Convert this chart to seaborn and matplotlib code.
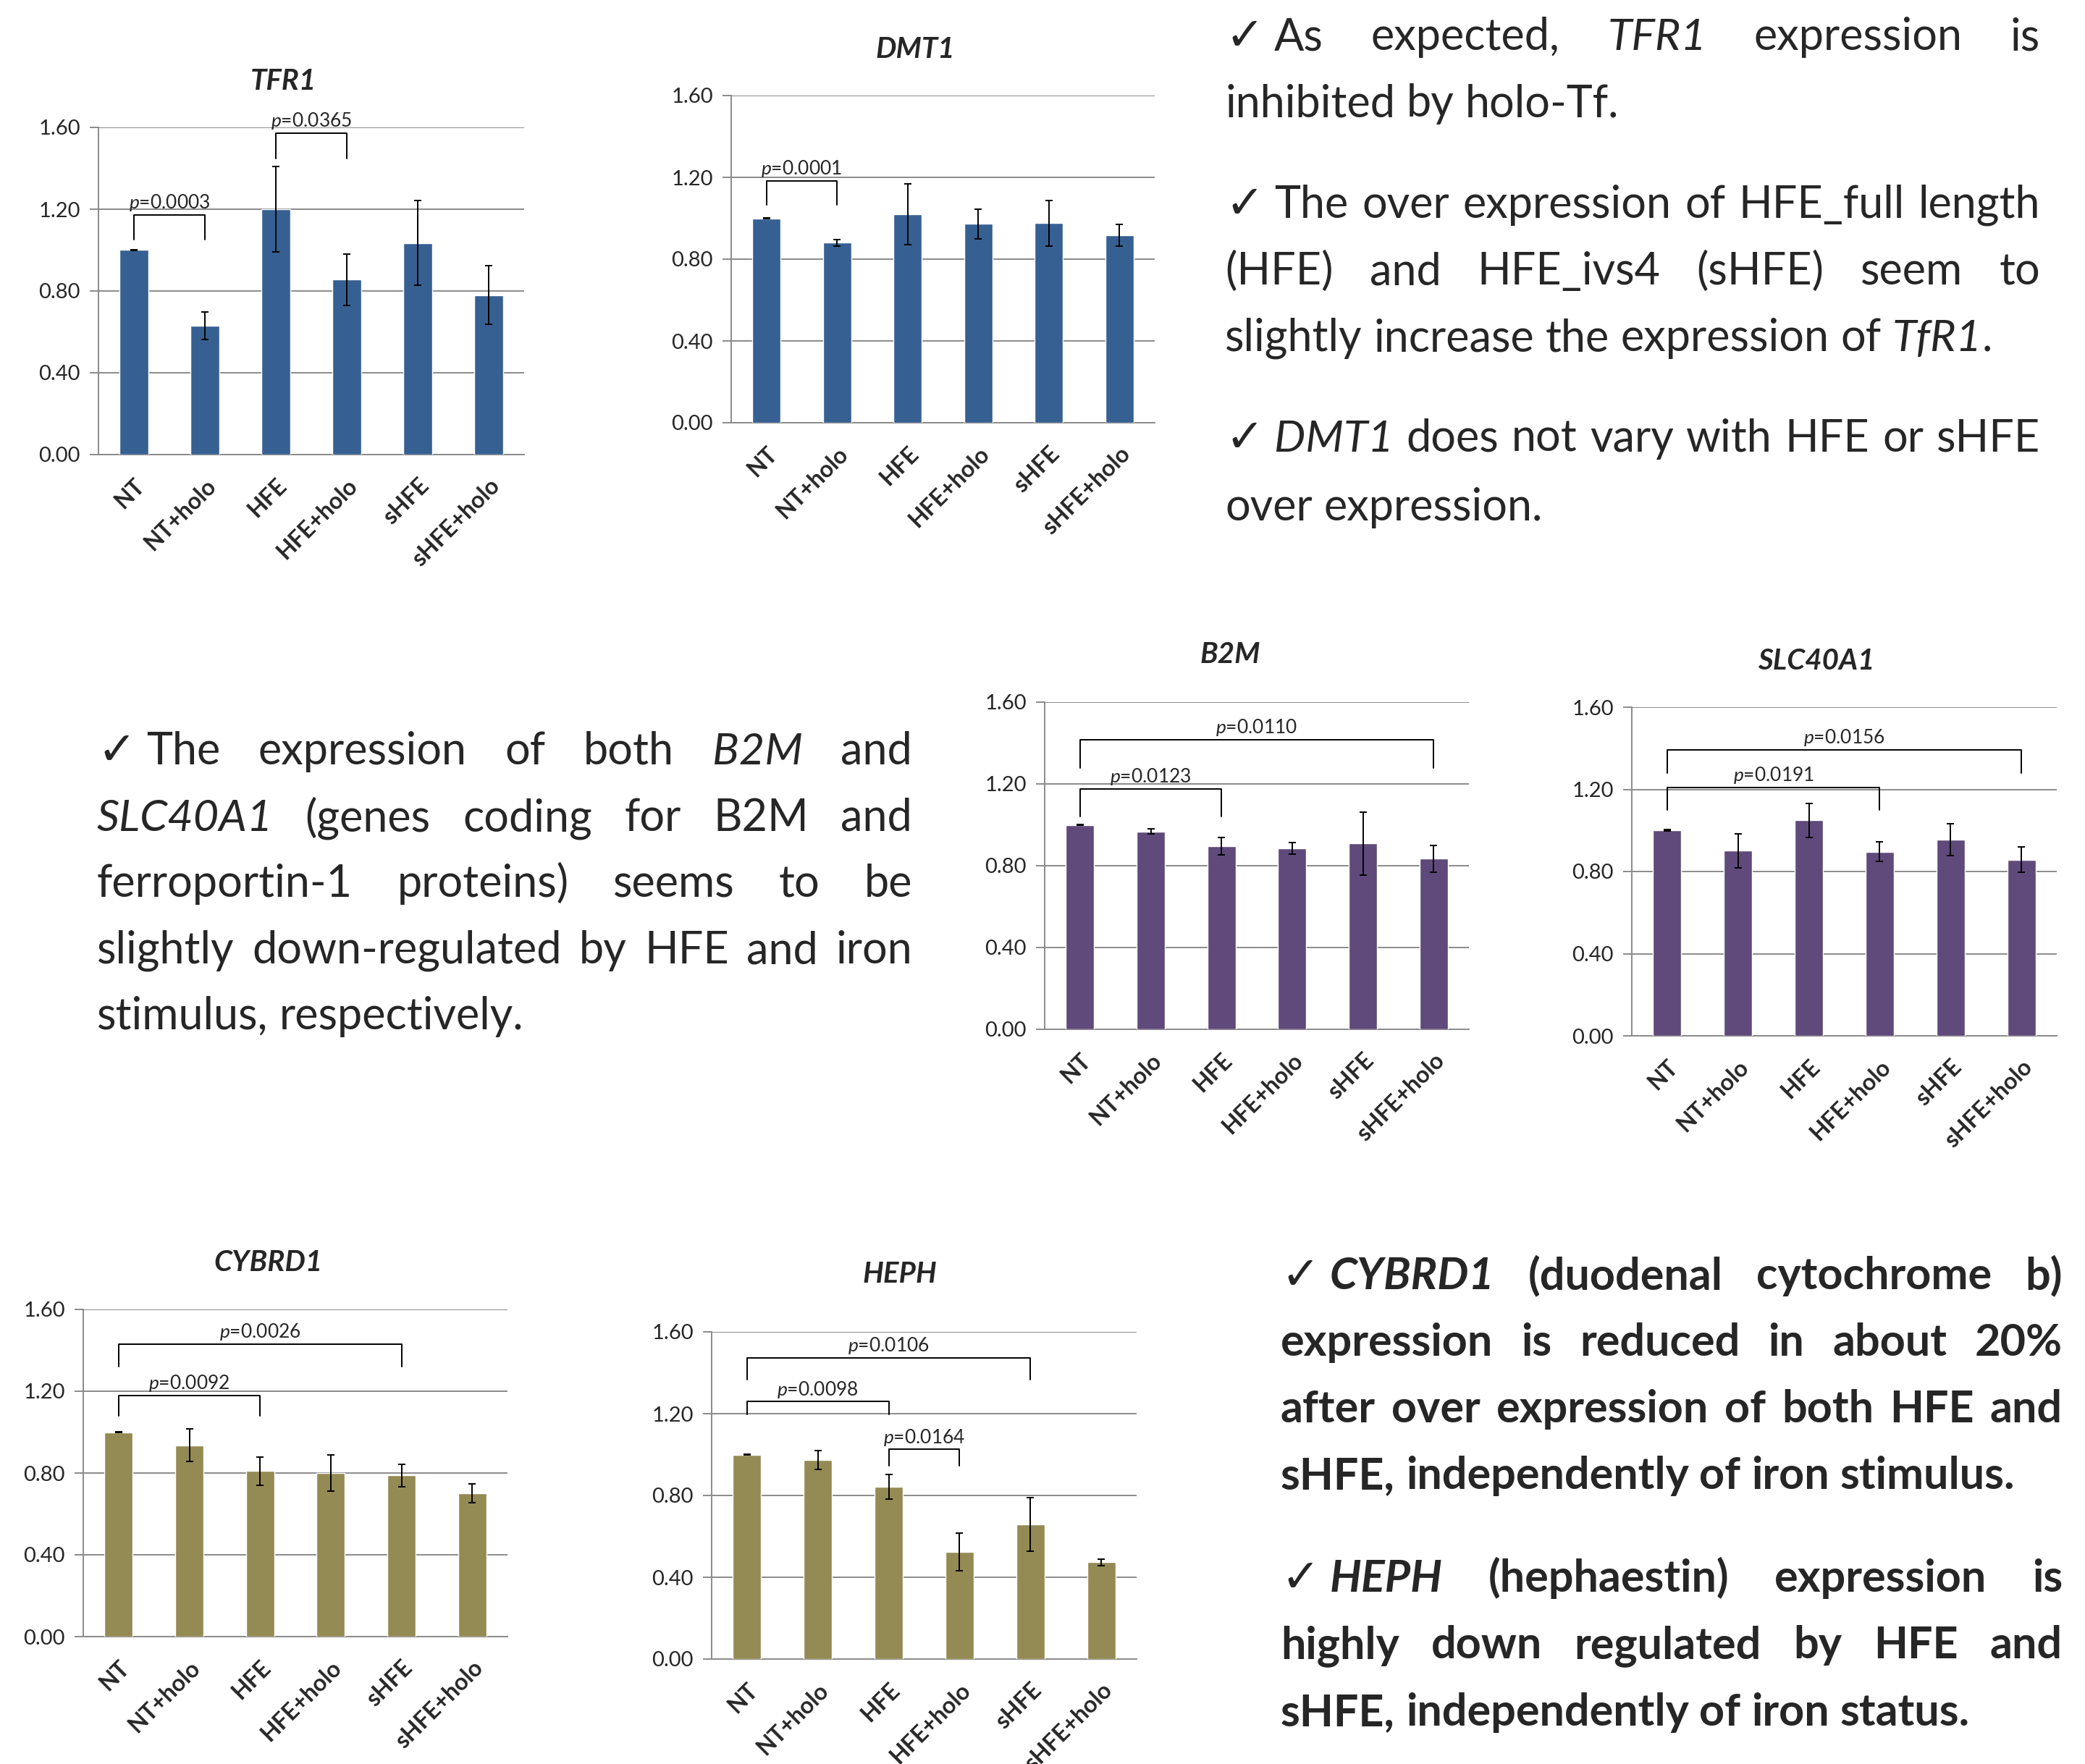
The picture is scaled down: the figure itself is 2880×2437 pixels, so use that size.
import numpy as np
import pandas as pd
import seaborn as sns
import matplotlib.pyplot as plt

W, H, DPI = 2880, 2437, 100

conditions = ["NT", "NT+holo", "HFE", "HFE+holo", "sHFE", "sHFE+holo"]

# relative expression (mean) and error
tfr1_mean = [1.00, 0.63, 1.20, 0.855, 1.035, 0.78]
tfr1_err = [0.003, 0.067, 0.21, 0.125, 0.207, 0.144]
dmt1_mean = [1.00, 0.88, 1.02, 0.972, 0.976, 0.917]
dmt1_err = [0.003, 0.015, 0.149, 0.073, 0.112, 0.054]
b2m_mean = [1.00, 0.968, 0.896, 0.884, 0.908, 0.834]
b2m_err = [0.003, 0.011, 0.043, 0.028, 0.155, 0.065]
slc_mean = [1.00, 0.901, 1.050, 0.896, 0.954, 0.857]
slc_err = [0.003, 0.084, 0.083, 0.047, 0.077, 0.062]
cybrd1_mean = [1.00, 0.936, 0.809, 0.800, 0.788, 0.701]
cybrd1_err = [0.003, 0.081, 0.069, 0.090, 0.055, 0.046]
heph_mean = [1.00, 0.975, 0.842, 0.525, 0.659, 0.473]
heph_err = [0.003, 0.046, 0.060, 0.092, 0.130, 0.016]

# significance brackets: (from, to, p-value)
tfr1_p = [(0, 1, "0.0003"), (2, 3, "0.0365")]
dmt1_p = [(0, 1, "0.0001")]
b2m_p = [(0, 2, "0.0123"), (0, 5, "0.0110")]
slc_p = [(0, 3, "0.0191"), (0, 5, "0.0156")]
cybrd1_p = [(0, 2, "0.0092"), (0, 4, "0.0026")]
heph_p = [(0, 2, "0.0098"), (0, 4, "0.0106"), (2, 3, "0.0164")]

# bracket heights (top, bottom of legs) in data units
tfr1_h = [(1.173, 1.052), (1.572, 1.449)]
dmt1_h = [(1.182, 1.065)]
b2m_h = [(1.176, 1.039), (1.415, 1.279)]
slc_h = [(1.209, 1.100), (1.391, 1.280)]
cybrd1_h = [(1.179, 1.080), (1.429, 1.319)]
heph_h = [(1.259, 1.198), (1.474, 1.368), (1.025, 0.944)]

BLUE, PURPLE, OLIVE = "#376092", "#604A7B", "#948A54"
GRID = "#8a8a8a"

sns.set_style("white")
plt.rcParams["font.family"] = ["Lato", "DejaVu Sans"]
plt.rcParams["mathtext.fontset"] = "custom"
plt.rcParams["mathtext.rm"] = "Lato"
plt.rcParams["mathtext.it"] = "Lato:italic"

fig = plt.figure(figsize=(W / DPI, H / DPI), dpi=DPI, facecolor="white")
renderer = fig.canvas.get_renderer()


def fx(x):
    return x / W


def fy(y):
    return 1 - y / H


def draw_panel(title, mean, err, color, pvals, heights, box, title_xy):
    l, t, r, b = box
    ax = fig.add_axes([fx(l), fy(b), (r - l) / W, (b - t) / H])
    df = pd.DataFrame({"cond": conditions, "val": mean})
    sns.barplot(data=df, x="cond", y="val", color=color, saturation=1,
                width=0.4, errorbar=None, ax=ax, zorder=3)
    ax.errorbar(np.arange(len(mean)), mean, yerr=err, fmt="none", ecolor="black",
                elinewidth=1.4, capsize=3.5, capthick=1.4, zorder=4)

    ax.set_ylim(0, 1.6)
    ax.set_xlim(-0.5, 5.5)
    ax.set_yticks(np.arange(0, 1.61, 0.4))
    ax.set_yticklabels([f"{v:.2f}" for v in np.arange(0, 1.61, 0.4)], fontsize=21)
    ax.set_axisbelow(True)
    ax.yaxis.grid(True, color=GRID, lw=1.4)
    ax.set_xlabel("")
    ax.set_ylabel("")
    ax.set_xticks(range(6))
    ax.set_xticklabels(conditions, rotation=45, ha="right", va="top",
                       rotation_mode="anchor", fontweight="bold", fontsize=23)
    ax.set_xticks(np.arange(-0.5, 6, 1), minor=True)
    ax.tick_params(axis="x", which="major", length=0, pad=20)
    ax.tick_params(axis="x", which="minor", length=12, width=1.4, color=GRID, direction="out")
    ax.tick_params(axis="y", length=9, width=1.4, color=GRID, pad=9, left=True)
    for s in ["top", "right"]:
        ax.spines[s].set_visible(False)
    for s in ["left", "bottom"]:
        ax.spines[s].set_color(GRID)
        ax.spines[s].set_linewidth(1.4)

    for (i, j, p), (top, leg) in zip(pvals, heights):
        ax.plot([i, i, j, j], [leg, top, top, leg], color="black", lw=1.4, zorder=5)
        ax.text((i + j) / 2, top + 0.01, r"$\mathit{p}$=" + p, ha="center",
                va="bottom", fontsize=19)

    fig.text(fx(title_xy[0]), fy(title_xy[1]), title, ha="center", va="center",
             fontsize=29, fontweight="bold", fontstyle="italic")


draw_panel("TFR1", tfr1_mean, tfr1_err, BLUE, tfr1_p, tfr1_h, (136, 176, 724, 628), (391, 112))
draw_panel("DMT1", dmt1_mean, dmt1_err, BLUE, dmt1_p, dmt1_h, (1010, 132, 1595, 584), (1264, 68))
draw_panel("B2M", b2m_mean, b2m_err, PURPLE, b2m_p, b2m_h, (1443, 970, 2029, 1422), (1699, 905))
draw_panel("SLC40A1", slc_mean, slc_err, PURPLE, slc_p, slc_h, (2254, 977, 2841, 1431), (2509, 913))
draw_panel("CYBRD1", cybrd1_mean, cybrd1_err, OLIVE, cybrd1_p, cybrd1_h, (115, 1809, 701, 2261), (371, 1745))
draw_panel("HEPH", heph_mean, heph_err, OLIVE, heph_p, heph_h, (983, 1840, 1570, 2292), (1243, 1760))

# ---- text blocks (words in *...* are italic) ----
block_top = [
    ("As expected, *TFR1* expression is", True, True),
    ("inhibited by holo-Tf.", False, False),
    ("The over expression of HFE_full length", True, True),
    ("(HFE) and HFE_ivs4 (sHFE) seem to", False, True),
    ("slightly increase the expression of *TfR1*.", False, False),
    ("*DMT1* does not vary with HFE or sHFE", True, True),
    ("over expression.", False, False),
]
block_mid = [
    ("The expression of both *B2M* and", True, True),
    ("*SLC40A1* (genes coding for B2M and", False, True),
    ("ferroportin-1 proteins) seems to be", False, True),
    ("slightly down-regulated by HFE and iron", False, True),
    ("stimulus, respectively.", False, False),
]
block_bottom = [
    ("*CYBRD1* (duodenal cytochrome b)", True, True),
    ("expression is reduced in about 20%", False, True),
    ("after over expression of both HFE and", False, True),
    ("sHFE, independently of iron stimulus.", False, False),
    ("*HEPH* (hephaestin) expression is", True, True),
    ("highly down regulated by HFE and", False, True),
    ("sHFE, independently of iron status.", False, False),
]


def parse(line):
    words, italic = [], False
    for w in line.split(" "):
        segs = []
        for k, part in enumerate(w.split("*")):
            if k > 0:
                italic = not italic
            if part:
                segs.append((part, italic))
        words.append(segs)
    return words


def width(t):
    return t.get_window_extent(renderer=renderer).width


def put_block(lines, left, right, baselines, size, bold):
    weight = "bold" if bold else "normal"
    a = fig.text(0, 0, "xx", fontsize=size, fontweight=weight)
    b = fig.text(0, 0, "x x", fontsize=size, fontweight=weight)
    space = width(b) - width(a)
    a.remove()
    b.remove()
    indent = 68
    for (line, check, justify), base in zip(lines, baselines):
        y = fy(base)
        if check:
            fig.text(fx(left), y, "\u2713", fontsize=size * 1.05, family="DejaVu Sans",
                     fontweight="bold", ha="left", va="baseline")
        x0 = left + (indent if check else 0)
        words = []
        for segs in parse(line):
            objs = []
            for s, it in segs:
                t = fig.text(0, y, s, fontsize=size, fontweight=weight,
                             fontstyle="italic" if it else "normal",
                             ha="left", va="baseline")
                objs.append((t, width(t)))
            words.append(objs)
        total = sum(w for objs in words for _, w in objs)
        gap = (right - x0 - total) / (len(words) - 1) if justify and len(words) > 1 else space
        x = x0
        for objs in words:
            for t, w in objs:
                t.set_x(fx(x))
                x += w
            x += gap


put_block(block_top, 1692, 2818, [69, 161, 301, 393, 485, 624, 719], 44, False)
put_block(block_mid, 134, 1260, [1056, 1148, 1239, 1331, 1422], 44, False)
put_block(block_bottom, 1769, 2849, [1781, 1873, 1965, 2057, 2199, 2291, 2384], 44, True)

fig.savefig("out.png", dpi=DPI, facecolor="white")
